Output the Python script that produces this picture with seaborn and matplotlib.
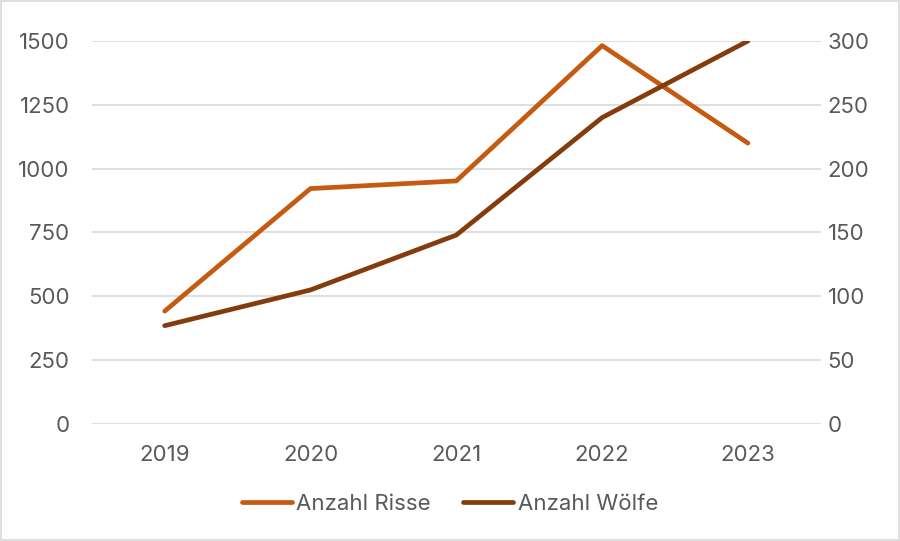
import pandas as pd
import matplotlib.pyplot as plt
import seaborn as sns
from matplotlib.lines import Line2D
from matplotlib.patches import Rectangle

# Data
years = ["2019", "2020", "2021", "2022", "2023"]
risse = [442, 922, 952, 1482, 1100]
woelfe = [77, 105, 148, 240, 300]

df = pd.DataFrame({"Jahr": years, "Risse": risse, "Woelfe": woelfe})
df["pos"] = range(len(years))

sns.set_style("white")
plt.rcParams["font.family"] = ["Inter", "DejaVu Sans"]

c_risse = "#C55A11"
c_woelfe = "#843C0C"
grey = "#595959"
fs = 16

fig = plt.figure(figsize=(9, 5.41), dpi=100)
ax = fig.add_axes([0.102, 0.2163, 0.81, 0.7079])
ax2 = ax.twinx()

sns.lineplot(data=df, x="pos", y="Risse", ax=ax, color=c_risse, linewidth=3.4,
             solid_capstyle="round", solid_joinstyle="round")
sns.lineplot(data=df, x="pos", y="Woelfe", ax=ax2, color=c_woelfe, linewidth=3.4,
             solid_capstyle="round", solid_joinstyle="round")

ax.set_xlim(-0.5, 4.5)
ax.set_ylim(0, 1500)
ax2.set_ylim(0, 300)
ax.set_yticks([0, 250, 500, 750, 1000, 1250, 1500])
ax2.set_yticks([0, 50, 100, 150, 200, 250, 300])
ax.set_xticks(df["pos"])
ax.set_xticklabels(years)

ax.grid(axis="y", color="#D9D9D9", linewidth=1.2)
ax.set_axisbelow(True)
for a in (ax, ax2):
    for s in a.spines.values():
        s.set_visible(False)
    a.set_xlabel("")
    a.set_ylabel("")
    a.tick_params(length=0, labelsize=fs, colors=grey)
ax.tick_params(axis="y", pad=16)
ax.tick_params(axis="x", pad=15)
ax2.tick_params(axis="y", pad=5)

handles = [Line2D([], [], color=c_risse, linewidth=3.4, solid_capstyle="round"),
           Line2D([], [], color=c_woelfe, linewidth=3.4, solid_capstyle="round")]
fig.legend(handles, ["Anzahl Risse", "Anzahl Wölfe"], loc="center",
           bbox_to_anchor=(0.5, 0.068), ncol=2, frameon=False, fontsize=fs,
           labelcolor=grey, handlelength=2.25, handletextpad=0.2, columnspacing=1.45)

fig.patches.append(Rectangle((0.001, 0.001), 0.998, 0.998, transform=fig.transFigure,
                             fill=False, edgecolor="#D9D9D9", linewidth=1.2))

fig.savefig("out.png", dpi=100)
